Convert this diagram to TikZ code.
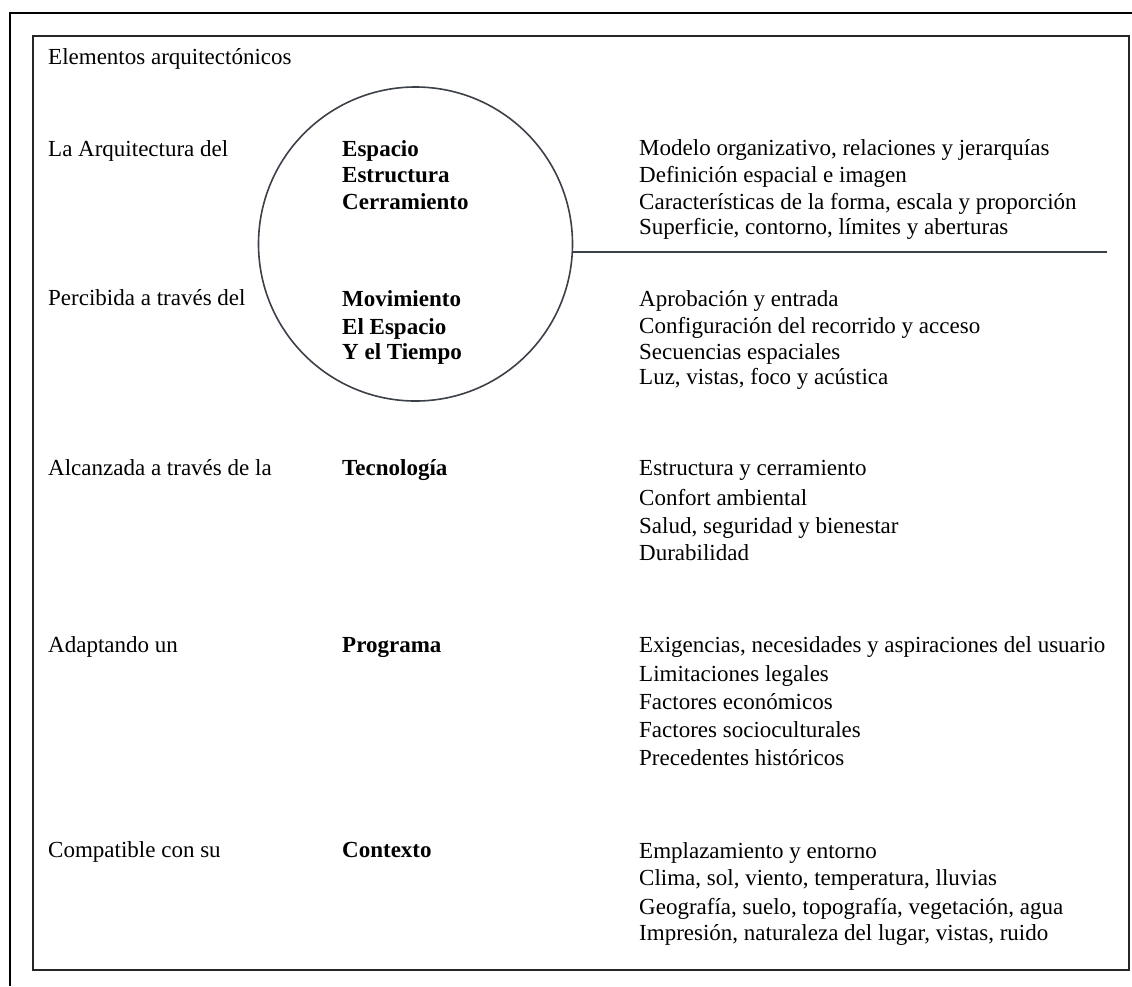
\documentclass[tikz,border=0pt]{standalone}
\usepackage{fontspec}
\setmainfont{Liberation Serif}
\begin{document}
\begin{tikzpicture}[x=1pt,y=-1pt,
  txt/.style={anchor=base west,inner sep=0pt,font=\fontsize{23}{27}\selectfont},
  bld/.style={txt,font=\fontsize{23}{27}\selectfont\bfseries},
  frame/.style={line width=2.2pt,black},
  inbox/.style={line width=1.8pt,black!85},
  ring/.style={draw={rgb,255:red,60;green,64;blue,72},line width=1.6pt,circle,inner sep=0pt,minimum size=314pt},
  rule/.style={draw={rgb,255:red,60;green,64;blue,72},line width=1.8pt}]
\useasboundingbox (0,0) rectangle (1132,986);
\fill[white] (0,0) rectangle (1132,986);
% frames
\coordinate (fa) at (10,986);
\coordinate (fb) at (10,13);
\coordinate (fc) at (1132,13);
\draw[frame] (fa) -- (fb) -- (fc);
\coordinate (ba) at (33,36);
\coordinate (bb) at (1129,970);
\draw[inbox] (ba) rectangle (bb);
% circle and rule
\node[ring] (circ) at (415.5,244) {};
\coordinate (lend) at (1107,253);
\draw[rule] (circ.-3.3) -- (circ.-3.3 -| lend);
% left column
\node[txt] (t0) at (48,64) {Elementos arquitectónicos};
\node[txt] (l1) at (48,156) {La Arquitectura del};
\node[txt] (l2) at (48,305) {Percibida a través del};
\node[txt] (l3) at (48,475) {Alcanzada a través de la};
\node[txt] (l4) at (48,652) {Adaptando un};
\node[txt] (l5) at (48,857) {Compatible con su};
% bold column
\node[bld] (b11) at (342,156) {Espacio};
\node[bld] (b12) at (342,182) {Estructura};
\node[bld] (b13) at (342,209) {Cerramiento};
\node[bld] (b21) at (342,306) {Movimiento};
\node[bld] (b22) at (342,334) {El Espacio};
\node[bld] (b23) at (342,359) {Y el Tiempo};
\node[bld] (b3) at (342,475) {Tecnología};
\node[bld] (b4) at (342,652) {Programa};
\node[bld] (b5) at (342,857) {Contexto};
% right column
\node[txt] (r11) at (639,155) {Modelo organizativo, relaciones y jerarquías};
\node[txt] (r12) at (639,182) {Definición espacial e imagen};
\node[txt] (r13) at (639,209) {Características de la forma, escala y proporción};
\node[txt] (r14) at (639,234) {Superficie, contorno, límites y aberturas};
\node[txt] (r21) at (639,306) {Aprobación y entrada};
\node[txt] (r22) at (639,333) {Configuración del recorrido y acceso};
\node[txt] (r23) at (639,359) {Secuencias espaciales};
\node[txt] (r24) at (639,384) {Luz, vistas, foco y acústica};
\node[txt] (r31) at (639,475) {Estructura y cerramiento};
\node[txt] (r32) at (639,505) {Confort ambiental};
\node[txt] (r33) at (639,533) {Salud, seguridad y bienestar};
\node[txt] (r34) at (639,560) {Durabilidad};
\node[txt] (r41) at (639,652) {Exigencias, necesidades y aspiraciones del usuario};
\node[txt] (r42) at (639,681) {Limitaciones legales};
\node[txt] (r43) at (639,709) {Factores económicos};
\node[txt] (r44) at (639,737) {Factores socioculturales};
\node[txt] (r45) at (639,765) {Precedentes históricos};
\node[txt] (r51) at (639,858) {Emplazamiento y entorno};
\node[txt] (r52) at (639,885) {Clima, sol, viento, temperatura, lluvias};
\node[txt] (r53) at (639,914) {Geografía, suelo, topografía, vegetación, agua};
\node[txt] (r54) at (639,940) {Impresión, naturaleza del lugar, vistas, ruido};
\end{tikzpicture}
\end{document}
